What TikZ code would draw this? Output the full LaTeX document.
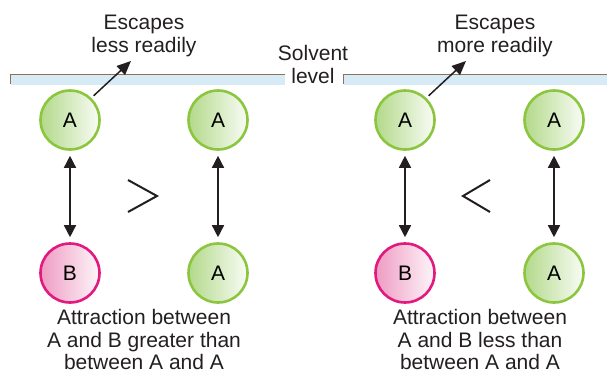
\documentclass[tikz,border=0pt]{standalone}
\usepackage{fontspec}
\setmainfont{Liberation Sans}
\usepackage{tikz}
\usetikzlibrary{arrows.meta,positioning}
\definecolor{LeafLine}{HTML}{8CC63F}
\definecolor{LeafSoft}{HTML}{B3D98A}
\definecolor{RoseLine}{HTML}{E2197E}
\definecolor{RoseSoft}{HTML}{EE9CC3}
\definecolor{WaterSoft}{HTML}{D7EBF7}
\definecolor{RimBrown}{HTML}{8F7058}
\definecolor{InkDark}{HTML}{231F20}
\tikzset{
  molA/.style={circle,draw=LeafLine,line width=2.6pt,minimum size=59pt,inner sep=0pt,left color=LeafSoft,right color=LeafSoft!8},
  molB/.style={circle,draw=RoseLine,line width=2.6pt,minimum size=59pt,inner sep=0pt,left color=RoseSoft,right color=RoseSoft!10},
  pull/.style={{Triangle[length=12pt,width=12pt]}-{Triangle[length=12pt,width=12pt]},line width=1.5pt,draw=InkDark,shorten <=5pt,shorten >=5pt},
  escape/.style={-{Triangle[length=14pt,width=12pt]},line width=1.5pt,draw=InkDark,shorten <=3pt},
  caption/.style={align=center,inner sep=0pt,anchor=north,text=InkDark},
  relsign/.style={line width=2pt,draw=InkDark}
}

\begin{document}
\begin{tikzpicture}[x=1pt,y=-1pt, every node/.style={font=\fontsize{21}{22.5}\selectfont}]
  \useasboundingbox (0,0) rectangle (607,373);
  \fill[WaterSoft] (11,75) rectangle (285,85);
  \draw[RimBrown,line width=1pt] (10,84) -- (10,74) -- (285,74);
  \fill[WaterSoft] (344,75) rectangle (607,85);
  \draw[RimBrown,line width=1pt] (343,84) -- (343,74) -- (607,74);

  \node[molA] (leftTop) at (70,120) {A};
  \node[molA] (leftPair) at (218,120) {A};
  \node[molB] (leftB) at (70,273) {B};
  \node[molA] (leftA) at (218,273) {A};
  \node[molA] (rightTop) at (405,120) {A};
  \node[molA] (rightPair) at (554,120) {A};
  \node[molB] (rightB) at (405,273) {B};
  \node[molA] (rightA) at (554,273) {A};

  \draw[pull] (leftTop) -- (leftB);
  \draw[pull] (leftPair) -- (leftA);
  \draw[pull] (rightTop) -- (rightB);
  \draw[pull] (rightPair) -- (rightA);

  \coordinate (leftTip) at (131,61);
  \coordinate (rightTip) at (466,61);
  \draw[escape] (leftTop.46) -- (leftTip);
  \draw[escape] (rightTop.46) -- (rightTip);

  \draw[relsign] (128,180) -- (157,196) -- (128,212);
  \draw[relsign] (490,180) -- (463,196) -- (490,212);

  \node[caption] (leftEscape) at (144,15) {Escapes\\less readily};
  \node[caption] (rightEscape) at (495,15) {Escapes\\more readily};
  \node[caption] (solvent) at (313,45.5) {Solvent\\level};
  \node[caption] (leftNote) at (144,309.5) {Attraction between\\A and B greater than\\between A and A};
  \node[caption] (rightNote) at (480,309.5) {Attraction between\\A and B less than\\between A and A};
\end{tikzpicture}
\end{document}
